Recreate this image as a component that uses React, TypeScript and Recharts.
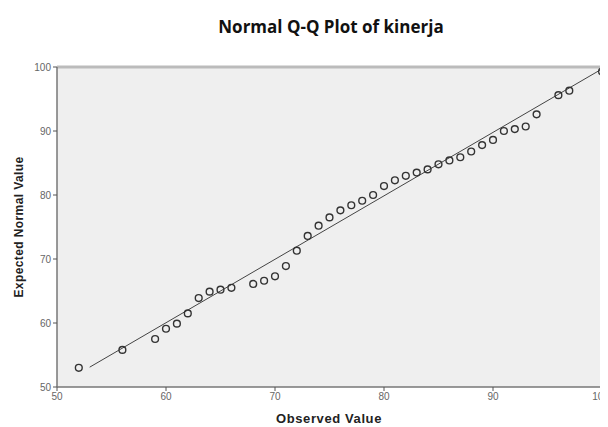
import React from "react";
import {
  ScatterChart,
  Scatter,
  XAxis,
  YAxis,
  CartesianGrid,
  ReferenceLine,
} from "recharts";

const observed = [
  52, 56, 59, 60, 61, 62, 63, 64, 65, 66, 68, 69, 70, 71, 72, 73, 74, 75, 76, 77,
  78, 79, 80, 81, 82, 83, 84, 85, 86, 87, 88, 89, 90, 91, 92, 93, 94, 96, 97, 100,
];
const expected = [
  53.0, 55.8, 57.5, 59.1, 59.9, 61.5, 63.9, 64.9, 65.2, 65.5, 66.1, 66.6, 67.3, 68.9,
  71.3, 73.6, 75.2, 76.5, 77.6, 78.4, 79.1, 80.0, 81.4, 82.3, 83.0, 83.5, 84.0, 84.8,
  85.4, 85.9, 86.8, 87.8, 88.6, 90.0, 90.3, 90.7, 92.6, 95.6, 96.3, 99.3,
];
const lineStart = { x: 53, y: 53.1 };
const lineEnd = { x: 100, y: 99.7 };
const xTicks = [50, 60, 70, 80, 90, 100];
const yTicks = [50, 60, 70, 80, 90, 100];

const data = observed.map((x, i) => ({ x, y: expected[i] }));

const Ring = (props: any) => (
  <circle
    cx={props.cx}
    cy={props.cy}
    r={3.4}
    fill="none"
    stroke="#333"
    strokeWidth={1.4}
  />
);

export default function App() {
  return (
    <div style={{ position: "relative", width: 600, height: 419 }}>
      <div
        style={{
          position: "absolute",
          left: 0,
          width: 646,
          top: 7,
          textAlign: "center",
          fontFamily: "'Open Sans', sans-serif",
          fontWeight: 700,
          fontSize: 17,
          color: "#111",
        }}
      >
        Normal Q-Q Plot of kinerja
      </div>
      <ScatterChart
        width={600}
        height={419}
        margin={{ top: 59, right: 6, bottom: 10, left: 9 }}
      >
        <CartesianGrid fill="#efefef" horizontal={false} vertical={false} />
        <XAxis
          type="number"
          dataKey="x"
          domain={[50, 100]}
          ticks={xTicks}
          allowDataOverflow
          height={30}
          tickSize={4}
          axisLine={{ stroke: "#777", strokeWidth: 1.5 }}
          tickLine={{ stroke: "#555" }}
          tick={{ fontSize: 10, fill: "#666", fontFamily: "'Liberation Sans', Arial, sans-serif" }}
        />
        <YAxis
          type="number"
          dataKey="y"
          domain={[50, 100]}
          ticks={yTicks}
          allowDataOverflow
          width={40}
          tickSize={4}
          axisLine={{ stroke: "#777", strokeWidth: 1.5 }}
          tickLine={{ stroke: "#555" }}
          tick={{ fontSize: 10, fill: "#666", fontFamily: "'Liberation Sans', Arial, sans-serif" }}
        />
        <ReferenceLine y={100} stroke="#bbb" strokeWidth={3} />
        <ReferenceLine x={100} stroke="#888" strokeWidth={2} />
        <ReferenceLine
          segment={[lineStart, lineEnd]}
          stroke="#444"
          strokeWidth={1}
          ifOverflow="visible"
        />
        <Scatter data={data} shape={Ring} isAnimationActive={false} />
      </ScatterChart>
      <div
        style={{
          position: "absolute",
          left: 221,
          width: 200,
          top: 403,
          textAlign: "center",
          fontFamily: "'Liberation Sans', Arial, sans-serif",
          fontWeight: 700,
          fontSize: 13,
          letterSpacing: 0.6,
          color: "#222",
        }}
      >
        Observed Value
      </div>
      <div
        style={{
          position: "absolute",
          left: 11 - 100,
          width: 200,
          top: 220 - 8,
          textAlign: "center",
          transform: "rotate(-90deg)",
          fontFamily: "'Liberation Sans', Arial, sans-serif",
          fontWeight: 700,
          fontSize: 12,
          letterSpacing: 0.4,
          color: "#222",
        }}
      >
        Expected Normal Value
      </div>
    </div>
  );
}
